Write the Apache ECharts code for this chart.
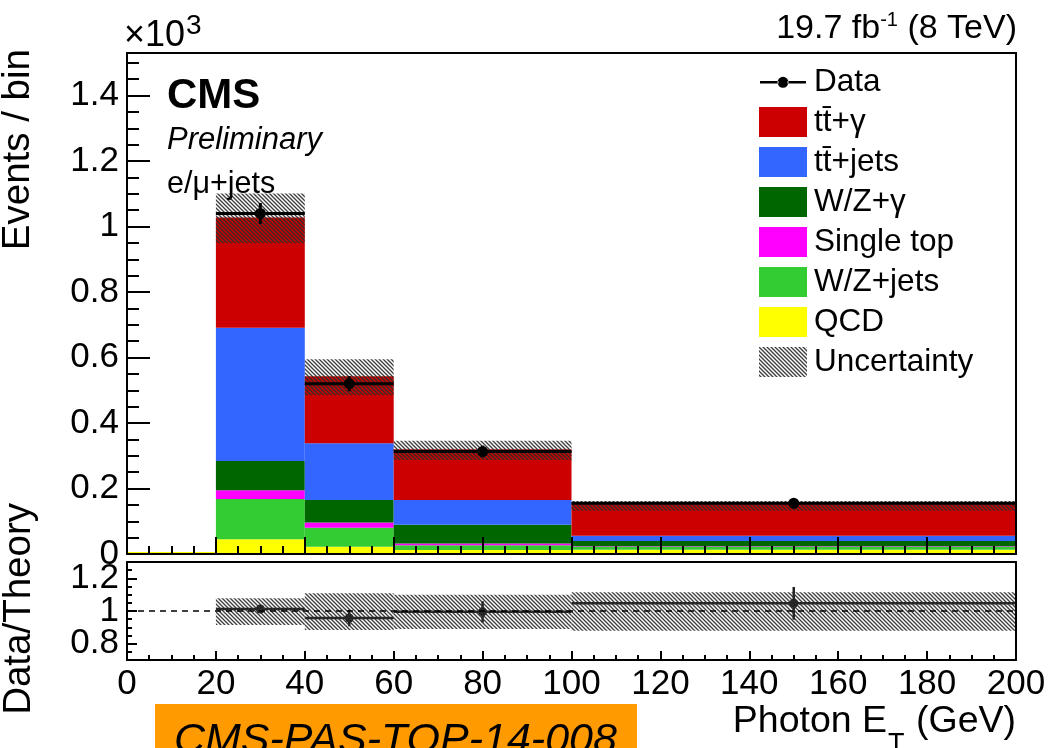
<!DOCTYPE html>
<html>
<head>
<meta charset="utf-8">
<script src="https://cdn.jsdelivr.net/npm/echarts@6/dist/echarts.min.js"></script>
<style>
  html, body { margin: 0; padding: 0; background: #fff; }
  #chart { width: 1050px; height: 748px; }
</style>
</head>
<body>
<div id="chart"></div>
<script>
// Photon E_T bin edges (GeV)
const binEdges = [0, 20, 40, 60, 100, 200];

// Expected events per bin, listed from the bottom of the stack upwards
const qcd       = [0, 45, 22, 12, 13];
const wzJets    = [0, 123, 58, 15, 9];
const singleTop = [0, 27, 16, 5, 2];
const wzGamma   = [0, 89, 69, 57, 16];
const ttJets    = [0, 407, 173, 76, 16];
const ttGamma   = [0, 337, 205, 155, 98];

// Uncertainty on the total expectation (events/bin)
const bandLow  = [null, 949, 485, 287, 132];
const bandHigh = [null, 1101, 595, 346, 162];

// Observed events and their statistical errors
const dataCounts = [null, 1040, 520, 313, 155];
const dataErrors = [null, 32, 23, 18, 12.5];

// Data/Theory panel
const ratioValues   = [null, 1.012, 0.957, 0.995, 1.047];
const ratioErrors   = [null, 0.025, 0.05, 0.065, 0.1];
const ratioBandLow  = [null, 0.914, 0.883, 0.89, 0.879];
const ratioBandHigh = [null, 1.078, 1.109, 1.10, 1.115];
const ratioOuterTicks  = [0.8, 1.2];
const ratioCentralTick = [1];

const FONT = '"Liberation Sans", Arial, Helvetica, sans-serif';

const components = [
  { name: 'QCD',              color: '#ffff00', values: qcd, outlineEmpty: true },
  { name: 'W/Z+jets',         color: '#33cc33', values: wzJets },
  { name: 'Single top',       color: '#ff00ff', values: singleTop },
  { name: 'W/Z+\u03b3',       color: '#006600', values: wzGamma },
  { name: 'tt\u0304+jets',    color: '#3366ff', values: ttJets },
  { name: 'tt\u0304+\u03b3',  color: '#cc0000', values: ttGamma }
];

// diagonal hatching used for the uncertainty bands
function makeHatch() {
  const c = document.createElement('canvas');
  c.width = 4; c.height = 4;
  const g = c.getContext('2d');
  g.strokeStyle = 'rgba(45,45,45,0.92)';
  g.lineWidth = 1.35;
  g.beginPath();
  g.moveTo(-1, -1); g.lineTo(5, 5);
  g.moveTo(-1, 3);  g.lineTo(1, 5);
  g.moveTo(3, -1);  g.lineTo(5, 1);
  g.stroke();
  return c;
}
const hatch = { image: makeHatch(), repeat: 'repeat' };

function rectFrom(api, lo, hi, y0, y1) {
  const a = api.coord([lo, y0]);
  const b = api.coord([hi, y1]);
  return { x: a[0], y: Math.min(a[1], b[1]), width: b[0] - a[0], height: Math.abs(a[1] - b[1]) };
}

function stackRenderer(outlineEmpty) {
  return function (params, api) {
    const r = rectFrom(api, api.value(0), api.value(1), api.value(2), api.value(3));
    const fill = api.visual('color');
    if (r.height < 0.5) {
      if (!outlineEmpty) return null;
      return { type: 'rect', shape: { x: r.x, y: r.y - 2, width: r.width, height: 2 }, style: { fill } };
    }
    return { type: 'rect', shape: r, style: { fill } };
  };
}

function bandRenderer(params, api) {
  const r = rectFrom(api, api.value(0), api.value(1), api.value(2), api.value(3));
  return { type: 'rect', shape: r, style: { fill: hatch } };
}

function pointRenderer(color, width, radius) {
  return function (params, api) {
    const lo = api.value(0), hi = api.value(1), v = api.value(2), e = api.value(3);
    const c = (lo + hi) / 2;
    const pL = api.coord([lo, v]), pR = api.coord([hi, v]);
    const pU = api.coord([c, v + e]), pD = api.coord([c, v - e]);
    const pC = api.coord([c, v]);
    return {
      type: 'group',
      children: [
        { type: 'line', shape: { x1: pL[0], y1: pL[1], x2: pR[0], y2: pR[1] }, style: { stroke: color, lineWidth: width } },
        { type: 'line', shape: { x1: pU[0], y1: pU[1], x2: pD[0], y2: pD[1] }, style: { stroke: color, lineWidth: width } },
        { type: 'circle', shape: { cx: pC[0], cy: pC[1], r: radius }, style: { fill: color } }
      ]
    };
  };
}

// build stacked bin items
const running = binEdges.slice(1).map(() => 0);
const stackSeries = components.map(comp => {
  const items = comp.values.map((v, i) => {
    const base = running[i];
    running[i] = base + v;
    return [binEdges[i], binEdges[i + 1], base, base + v];
  });
  return {
    type: 'custom', name: comp.name, xAxisIndex: 0, yAxisIndex: 0,
    renderItem: stackRenderer(!!comp.outlineEmpty),
    itemStyle: { color: comp.color },
    encode: { x: [0, 1], y: [2, 3] },
    data: items, z: 2, silent: true
  };
});

function pairs(lowArr, highArr) {
  const out = [];
  lowArr.forEach((lo, i) => { if (lo !== null) out.push([binEdges[i], binEdges[i + 1], lo, highArr[i]]); });
  return out;
}
function points(vals, errs) {
  const out = [];
  vals.forEach((v, i) => { if (v !== null) out.push([binEdges[i], binEdges[i + 1], v, errs[i]]); });
  return out;
}

// text helpers
const mctx = document.createElement('canvas').getContext('2d');
function textWidth(str, size, weight, style) {
  mctx.font = (style || 'normal') + ' ' + (weight || 'normal') + ' ' + size + 'px ' + FONT;
  return mctx.measureText(str).width;
}
function txt(text, x, y, size, opts) {
  opts = opts || {};
  return {
    type: 'text', x, y, rotation: opts.rotation || 0, z: 100,
    style: {
      text, fill: opts.color || '#000', fontSize: size, fontFamily: FONT,
      fontWeight: opts.weight || 'normal', fontStyle: opts.style || 'normal',
      align: opts.align || 'left', verticalAlign: 'middle'
    }
  };
}

// composite texts with super/subscripts
const graphics = [];
graphics.push({ type: 'rect', shape: { x: 155, y: 704, width: 482, height: 60 }, style: { fill: '#ff9a00' }, z: 90 });
graphics.push(txt('CMS-PAS-TOP-14-008', 174, 741, 43, { style: 'italic' }));

graphics.push(txt('CMS', 167, 96, 42, { weight: 'bold' }));
graphics.push(txt('Preliminary', 167, 140, 31, { style: 'italic' }));
graphics.push(txt('e/\u03bc+jets', 167, 185, 30.5));

// exponent of the y axis
(function () {
  const w = textWidth('\u00d710', 36);
  graphics.push(txt('\u00d710', 124, 36, 36));
  graphics.push(txt('3', 124 + w + 1, 26, 28));
})();

// luminosity label, right aligned to the frame
(function () {
  const right = 1017;
  const w3 = textWidth(' (8 TeV)', 34);
  const w2 = textWidth('-1', 20);
  const w1 = textWidth('19.7 fb', 34);
  graphics.push(txt(' (8 TeV)', right - w3, 29, 34));
  graphics.push(txt('-1', right - w3 - w2, 20, 20));
  graphics.push(txt('19.7 fb', right - w3 - w2 - w1, 29, 34));
})();

// x axis title
(function () {
  const right = 1016;
  const w3 = textWidth(' (GeV)', 37.5);
  const w2 = textWidth('T', 27);
  const w1 = textWidth('Photon E', 37.5);
  graphics.push(txt(' (GeV)', right - w3, 722, 37.5));
  graphics.push(txt('T', right - w3 - w2 - 1, 745, 27));
  graphics.push(txt('Photon E', right - w3 - w2 - w1 - 2, 722, 37.5));
})();

// y axis titles
graphics.push(txt('Events / bin', 18, 49, 38.5, { rotation: Math.PI / 2, align: 'right' }));
graphics.push(txt('Data/Theory', 19, 503, 38.5, { rotation: Math.PI / 2, align: 'right' }));

const black = '#000';
const frameLine = { show: true, lineStyle: { color: black, width: 2 } };
function frameAxis(gridIndex, position, min, max) {
  return {
    type: 'value', gridIndex, position, min, max, z: 10,
    axisLine: Object.assign({ onZero: false }, frameLine),
    axisTick: { show: false }, axisLabel: { show: false }, splitLine: { show: false }
  };
}
// left axis of the ratio panel carrying a subset of the labelled ticks
function ratioLabelAxis(values, withLine) {
  return {
    type: 'value', gridIndex: 1, position: 'left', min: 0.7, max: 1.3, z: 10,
    axisLine: withLine ? Object.assign({ onZero: false }, frameLine) : { show: false },
    axisTick: { inside: true, length: 10, customValues: values, lineStyle: { color: black, width: 2 } },
    axisLabel: {
      fontSize: 35, fontFamily: FONT, color: black, margin: 8,
      customValues: values, showMinLabel: true, showMaxLabel: true,
      formatter: v => String(+v.toFixed(2))
    },
    splitLine: { show: false }
  };
}

// legend marker for data: horizontal bar with a filled dot in the middle
const dataIcon = 'path://M0,0h0.01v0.01h-0.01z M1,14h18.5v2.6h-18.5z M28.5,14h18.5v2.6h-18.5z M18.5,15.3a5.5,5.5 0 1,0 11,0a5.5,5.5 0 1,0 -11,0z M47.99,29.99h0.01v0.01h-0.01z';

const option = {
  animation: false,
  backgroundColor: '#fff',
  grid: [
    { left: 127, right: 34, top: 53, height: 501 },
    { left: 127, right: 34, top: 562, height: 98 }
  ],
  xAxis: [
    {
      type: 'value', gridIndex: 0, position: 'bottom', min: 0, max: 200, interval: 20, z: 10,
      axisLine: Object.assign({ onZero: false }, frameLine),
      axisTick: { inside: true, length: 17, lineStyle: { color: black, width: 2 } },
      minorTick: { show: true, splitNumber: 4, length: 8, lineStyle: { color: black, width: 2 } },
      axisLabel: { show: false }, splitLine: { show: false }
    },
    frameAxis(0, 'top', 0, 200),
    {
      type: 'value', gridIndex: 1, position: 'bottom', min: 0, max: 200, interval: 20, z: 10,
      axisLine: Object.assign({ onZero: false }, frameLine),
      axisTick: { inside: true, length: 9, lineStyle: { color: black, width: 2 } },
      minorTick: { show: true, splitNumber: 4, length: 5, lineStyle: { color: black, width: 2 } },
      axisLabel: { fontSize: 35, fontFamily: FONT, color: black, margin: 7 },
      splitLine: { show: false }
    },
    frameAxis(1, 'top', 0, 200)
  ],
  yAxis: [
    {
      type: 'value', gridIndex: 0, position: 'left', min: 0, max: 1530, interval: 200, z: 10,
      axisLine: Object.assign({ onZero: false }, frameLine),
      axisTick: { inside: true, length: 23, lineStyle: { color: black, width: 2 } },
      axisLabel: {
        fontSize: 35, fontFamily: FONT, color: black, margin: 8, showMaxLabel: false, showMinLabel: true,
        formatter: v => String(+(v / 1000).toFixed(2))
      },
      splitLine: { show: false }
    },
    {
      type: 'value', gridIndex: 0, position: 'left', min: 0, max: 1530, interval: 50, z: 10,
      axisLine: { show: false },
      axisTick: { inside: true, length: 12, lineStyle: { color: black, width: 2 } },
      axisLabel: { show: false }, splitLine: { show: false }
    },
    frameAxis(0, 'right', 0, 1530),
    ratioLabelAxis(ratioOuterTicks, true),
    {
      type: 'value', gridIndex: 1, position: 'left', min: 0.7, max: 1.3, interval: 0.05, z: 10,
      axisLine: { show: false },
      axisTick: { inside: true, length: 5, lineStyle: { color: black, width: 2 } },
      axisLabel: { show: false }, splitLine: { show: false }
    },
    frameAxis(1, 'right', 0.7, 1.3),
    ratioLabelAxis(ratioCentralTick, false)
  ],
  legend: {
    orient: 'vertical', left: 759, top: 66, padding: 0,
    itemWidth: 48, itemHeight: 30, itemGap: 8, selectedMode: false,
    textStyle: { fontSize: 31.5, fontFamily: FONT, color: black, lineHeight: 30, padding: [0, 0, 0, 2] },
    data: [
      { name: 'Data', icon: dataIcon },
      { name: 'tt\u0304+\u03b3', icon: 'rect' },
      { name: 'tt\u0304+jets', icon: 'rect' },
      { name: 'W/Z+\u03b3', icon: 'rect' },
      { name: 'Single top', icon: 'rect' },
      { name: 'W/Z+jets', icon: 'rect' },
      { name: 'QCD', icon: 'rect' },
      { name: 'Uncertainty', icon: 'rect' }
    ]
  },
  graphic: graphics,
  series: stackSeries.concat([
    {
      type: 'custom', name: 'Uncertainty', xAxisIndex: 0, yAxisIndex: 0,
      renderItem: bandRenderer, itemStyle: { color: hatch },
      encode: { x: [0, 1], y: [2, 3] }, data: pairs(bandLow, bandHigh), z: 3, silent: true
    },
    {
      type: 'custom', name: 'Data', xAxisIndex: 0, yAxisIndex: 0,
      renderItem: pointRenderer('#000', 3, 5.5), itemStyle: { color: '#000' },
      encode: { x: [0, 1], y: [2] }, data: points(dataCounts, dataErrors), z: 4, silent: true
    },
    {
      type: 'custom', name: 'Data/Theory', xAxisIndex: 2, yAxisIndex: 3,
      renderItem: pointRenderer('#222', 2.5, 4.5), itemStyle: { color: '#222' },
      encode: { x: [0, 1], y: [2] }, data: points(ratioValues, ratioErrors), z: 2, silent: true
    },
    {
      type: 'custom', name: 'Ratio uncertainty', xAxisIndex: 2, yAxisIndex: 3,
      renderItem: bandRenderer, itemStyle: { color: hatch },
      encode: { x: [0, 1], y: [2, 3] }, data: pairs(ratioBandLow, ratioBandHigh), z: 3, silent: true,
      markLine: {
        silent: true, symbol: 'none', label: { show: false },
        lineStyle: { color: black, width: 1.5, type: [6, 5] },
        data: [{ yAxis: 1 }]
      }
    }
  ])
};

const chart = echarts.init(document.getElementById('chart'), null, { renderer: 'canvas' });
chart.setOption(option);
</script>
</body>
</html>
